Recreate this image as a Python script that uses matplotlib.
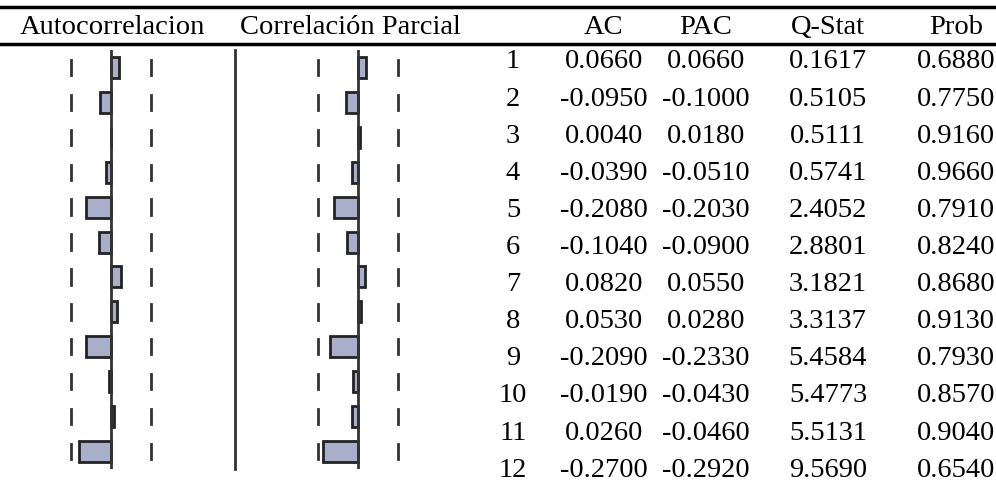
import matplotlib.pyplot as plt
import numpy as np

# Correlogram values (lags 1..12)
lags = np.arange(1, 13)
ac = [0.0660, -0.0950, 0.0040, -0.0390, -0.2080, -0.1040,
      0.0820, 0.0530, -0.2090, -0.0190, 0.0260, -0.2700]
pac = [0.0660, -0.1000, 0.0180, -0.0510, -0.2030, -0.0900,
       0.0550, 0.0280, -0.2330, -0.0430, -0.0460, -0.2920]
qstat = [0.1617, 0.5105, 0.5111, 0.5741, 2.4052, 2.8801,
         3.1821, 3.3137, 5.4584, 5.4773, 5.5131, 9.5690]
prob = [0.6880, 0.7750, 0.9160, 0.9660, 0.7910, 0.8240,
        0.8680, 0.9130, 0.7930, 0.8570, 0.9040, 0.6540]
headers = ["AC", "PAC", "Q-Stat", "Prob"]
bound = 0.333  # confidence band

W, H = 996, 497
plt.rcParams['font.family'] = 'serif'
plt.rcParams['font.serif'] = ['Liberation Serif', 'DejaVu Serif']
fig = plt.figure(figsize=(W / 100, H / 100), dpi=100)

# base axes in pixel units for the table part
ax = fig.add_axes([0, 0, 1, 1])
ax.set_xlim(0, W)
ax.set_ylim(H, 0)
ax.axis('off')

ax.axhline(7, color='black', lw=2.5)
ax.axhline(44, color='black', lw=2.5)
fs = 20.5
ax.text(112, 27, "Autocorrelacion", ha='center', va='center', fontsize=fs)
ax.text(350, 27, "Correlación Parcial", ha='center', va='center', fontsize=fs)
col_x = [604, 706, 828, 956]
for x, h in zip(col_x, headers):
    ax.text(x, 27, h, ha='center', va='center', fontsize=fs)

row_y0, row_dy = 62, 37.1
for i, lag in enumerate(lags):
    y = row_y0 + i * row_dy
    ax.text(513, y, str(lag), ha='center', va='center', fontsize=fs)
    for x, v in zip(col_x, [ac[i], pac[i], qstat[i], prob[i]]):
        ax.text(x, y, f"{v:.4f}", ha='center', va='center', fontsize=fs)

# separator between the two bar panels
ax.plot([235, 235], [50, 469], color='#333333', lw=2)


def panel(zero_px, values):
    pax = fig.add_axes([(zero_px - 60) / W, (H - 469) / H, 120 / W, 419 / H])
    pax.set_xlim(-0.5, 0.5)
    pax.set_ylim(12.5, 0.5)
    pax.axis('off')
    pax.barh(lags, values, height=0.6, color='#a9afcb', edgecolor='#222222', lw=2, zorder=2)
    pax.axvline(0, color='#333333', lw=2, zorder=3)
    for lag in lags:
        for b in (-bound, bound):
            pax.plot([b, b], [lag - 0.22, lag + 0.22], color='#333333', lw=2)
    return pax


panel(111, ac)
panel(358, pac)

fig.savefig("out.png", dpi=100)
